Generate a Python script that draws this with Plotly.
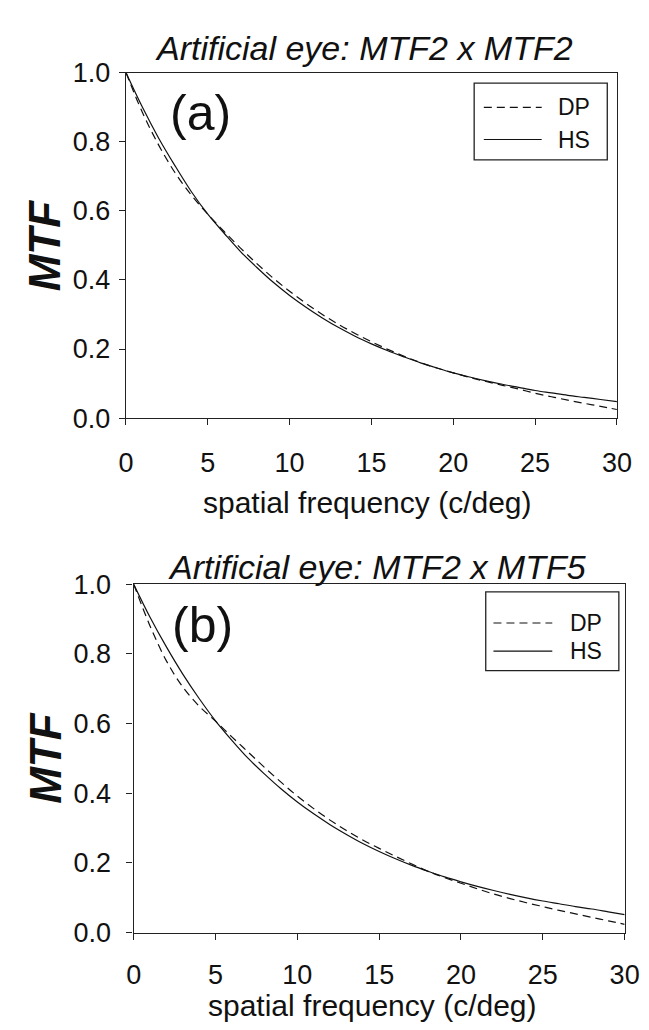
import plotly.graph_objects as go

freq = list(range(0, 31))

hs_a = [1.00, 0.90, 0.81, 0.73, 0.655, 0.59, 0.535, 0.482, 0.436, 0.393, 0.355,
        0.321, 0.29, 0.262, 0.237, 0.215, 0.195, 0.177, 0.16, 0.145, 0.131,
        0.119, 0.108, 0.098, 0.089, 0.08, 0.073, 0.066, 0.06, 0.054, 0.048]
dp_a = [1.00, 0.885, 0.79, 0.71, 0.645, 0.59, 0.54, 0.492, 0.447, 0.405, 0.367,
        0.332, 0.30, 0.271, 0.245, 0.221, 0.199, 0.179, 0.161, 0.145, 0.131,
        0.118, 0.106, 0.095, 0.084, 0.072, 0.062, 0.052, 0.043, 0.034, 0.025]

hs_b = [1.00, 0.905, 0.82, 0.742, 0.672, 0.608, 0.552, 0.50, 0.455, 0.413, 0.375,
        0.341, 0.31, 0.282, 0.256, 0.233, 0.212, 0.193, 0.176, 0.16, 0.146,
        0.133, 0.121, 0.11, 0.10, 0.091, 0.083, 0.075, 0.068, 0.06, 0.052]
dp_b = [1.00, 0.88, 0.78, 0.705, 0.65, 0.607, 0.562, 0.518, 0.474, 0.432, 0.392,
        0.356, 0.323, 0.293, 0.266, 0.242, 0.219, 0.197, 0.176, 0.158, 0.142,
        0.126, 0.111, 0.098, 0.086, 0.075, 0.064, 0.054, 0.044, 0.034, 0.024]

x_ticks = [0, 5, 10, 15, 20, 25, 30]
y_ticks = [0.0, 0.2, 0.4, 0.6, 0.8, 1.0]
y_ticklabels = ["0.0", "0.2", "0.4", "0.6", "0.8", "1.0"]

titles = ["Artificial eye: MTF2 x MTF2", "Artificial eye: MTF2 x MTF5"]
panel_labels = ["(a)", "(b)"]
series_names = ["DP", "HS"]

W, H = 649, 1030
FONT = "Liberation Sans, Arial, Helvetica, sans-serif"
INK = "#111111"
DASH = "8px,5px"


def px_x(p):
    return p / W


def px_y(p):
    return 1 - p / H


fig = go.Figure()
panels = [("x", "y", dp_a, hs_a), ("x2", "y2", dp_b, hs_b)]
for xa, ya, dp, hs in panels:
    fig.add_trace(go.Scatter(x=freq, y=dp, mode="lines", name=series_names[0],
                             line=dict(color=INK, width=1.2, dash=DASH, shape="spline"),
                             xaxis=xa, yaxis=ya, showlegend=False))
    fig.add_trace(go.Scatter(x=freq, y=hs, mode="lines", name=series_names[1],
                             line=dict(color=INK, width=1.2, shape="spline"),
                             xaxis=xa, yaxis=ya, showlegend=False))

axis_common = dict(showline=True, mirror=True, linecolor="#222222", linewidth=1.4,
                   ticks="outside", ticklen=6, tickwidth=1.3, tickcolor="#222222",
                   showgrid=False, zeroline=False,
                   tickfont=dict(family=FONT, size=27, color=INK))

fig.update_layout(
    width=W, height=H,
    margin=dict(l=0, r=0, t=0, b=0),
    paper_bgcolor="white", plot_bgcolor="white",
    showlegend=False,
    xaxis=dict(domain=[px_x(114), px_x(623)], range=[0, 30], tickvals=x_ticks,
               anchor="y", ticklabelstandoff=14, **axis_common),
    yaxis=dict(domain=[px_y(407), px_y(51)], range=[0, 1], tickvals=y_ticks,
               ticktext=y_ticklabels, anchor="x", ticklabelstandoff=3, **axis_common),
    xaxis2=dict(domain=[px_x(122), px_x(631)], range=[0, 30], tickvals=x_ticks,
                anchor="y2", ticklabelstandoff=12, **axis_common),
    yaxis2=dict(domain=[px_y(937), px_y(578)], range=[0, 1], tickvals=y_ticks,
                ticktext=y_ticklabels, anchor="x2", ticklabelstandoff=10, **axis_common),
)

annotations = []
shapes = []
title_pos = [(361, 26), (374, 560)]
label_pos = [(191, 93), (193, 620)]
mtf_pos = [(29, 229), (31, 757)]
xt_pos = [(364, 494), (370, 1012)]
# legend boxes: (x0, y0, x1, y1), sample line x0/x1, text x, row ys
legend_geo = [
    dict(box=(475, 62, 613, 141), lx=(485, 545), tx=560, rows=(87, 120)),
    dict(box=(487, 586, 625, 667), lx=(495, 556), tx=572, rows=(618, 647)),
]
for i in range(2):
    annotations.append(dict(text=f"<i>{titles[i]}</i>", x=px_x(title_pos[i][0]), y=px_y(title_pos[i][1]),
                            xref="paper", yref="paper", showarrow=False,
                            xanchor="center", yanchor="middle",
                            font=dict(family=FONT, size=34, color=INK)))
    annotations.append(dict(text=panel_labels[i], x=px_x(label_pos[i][0]), y=px_y(label_pos[i][1]),
                            xref="paper", yref="paper", showarrow=False,
                            xanchor="center", yanchor="middle",
                            font=dict(family=FONT, size=50, color=INK)))
    annotations.append(dict(text="<b><i>MTF</i></b>", x=px_x(mtf_pos[i][0]), y=px_y(mtf_pos[i][1]),
                            xref="paper", yref="paper", showarrow=False, textangle=-90,
                            xanchor="center", yanchor="middle",
                            font=dict(family=FONT, size=44, color=INK)))
    annotations.append(dict(text="spatial frequency (c/deg)", x=px_x(xt_pos[i][0]), y=px_y(xt_pos[i][1]),
                            xref="paper", yref="paper", showarrow=False,
                            xanchor="center", yanchor="middle",
                            font=dict(family=FONT, size=30, color=INK)))
    g = legend_geo[i]
    bx0, by0, bx1, by1 = g["box"]
    shapes.append(dict(type="rect", xref="paper", yref="paper",
                       x0=px_x(bx0), x1=px_x(bx1), y0=px_y(by1), y1=px_y(by0),
                       line=dict(color="#222222", width=1.3), fillcolor="white", layer="above"))
    for k, dash in enumerate([DASH, "solid"]):
        ry = g["rows"][k]
        shapes.append(dict(type="line", xref="paper", yref="paper",
                           x0=px_x(g["lx"][0]), x1=px_x(g["lx"][1]), y0=px_y(ry), y1=px_y(ry),
                           line=dict(color=INK, width=1.2, dash=dash), layer="above"))
        annotations.append(dict(text=series_names[k], x=px_x(g["tx"]), y=px_y(ry),
                                xref="paper", yref="paper", showarrow=False,
                                xanchor="left", yanchor="middle",
                                font=dict(family=FONT, size=23, color=INK)))
fig.update_layout(annotations=annotations, shapes=shapes)

fig.write_html("out.html")
